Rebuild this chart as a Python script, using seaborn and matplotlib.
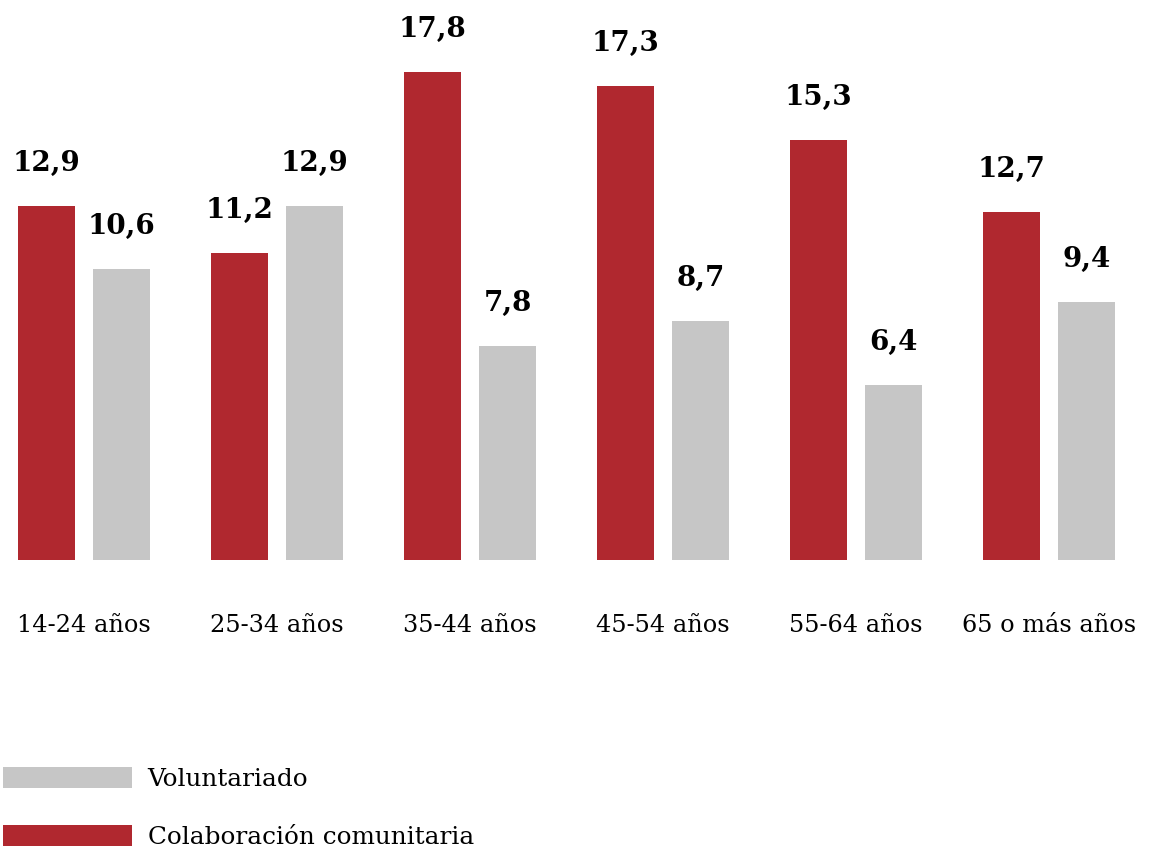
import matplotlib
matplotlib.use("Agg")
import matplotlib.pyplot as plt
import seaborn as sns
import pandas as pd
from matplotlib.patches import Patch

categories = ["14-24 años", "25-34 años", "35-44 años", "45-54 años", "55-64 años", "65 o más años"]
colaboracion = [12.9, 11.2, 17.8, 17.3, 15.3, 12.7]
voluntariado = [10.6, 12.9, 7.8, 8.7, 6.4, 9.4]
series_names = ["Colaboración comunitaria", "Voluntariado"]
colors = {"Colaboración comunitaria": "#B0282F", "Voluntariado": "#C6C6C6"}

df = pd.DataFrame({
    "cat": categories * 2,
    "serie": [series_names[0]] * len(categories) + [series_names[1]] * len(categories),
    "valor": colaboracion + voluntariado,
})

sns.set_style("white")
plt.rcParams["font.family"] = ["DejaVu Serif"]
plt.rcParams["text.color"] = "black"
plt.rcParams["xtick.color"] = "black"

fig = plt.figure(figsize=(11.5, 8.47), dpi=100)
ax = fig.add_axes([0, 287 / 847, 1, 560 / 847])

sns.barplot(data=df, x="cat", y="valor", hue="serie", hue_order=series_names,
            order=categories, palette=colors, width=150 / 193, gap=0.24,
            saturation=1, legend=False, linewidth=0, ax=ax)

ax.set_xlim(-84 / 193, (1150 - 84) / 193)
ax.set_ylim(0, 560 / 27.42)
for s in ax.spines.values():
    s.set_visible(False)
ax.set_yticks([])
ax.set_xlabel("")
ax.set_ylabel("")
ax.tick_params(axis="x", length=0, pad=39, labelsize=17.3, labelcolor="black")

for cont in ax.containers:
    for bar in cont:
        h = bar.get_height()
        ax.annotate(f"{h:.1f}".replace(".", ","),
                    (bar.get_x() + bar.get_width() / 2, h),
                    xytext=(0, 35), textcoords="offset pixels",
                    ha="center", va="baseline", fontsize=20, fontweight="bold",
                    color="black")

handles = [Patch(color=colors["Voluntariado"], linewidth=0),
           Patch(color=colors["Colaboración comunitaria"], linewidth=0)]
fig.legend(handles, ["Voluntariado", "Colaboración comunitaria"],
           loc="lower left", bbox_to_anchor=(3 / 1150, -2 / 847), frameon=False,
           fontsize=17.8, handlelength=5.2, handleheight=0.9, handletextpad=0.65,
           labelspacing=1.39, borderpad=0, borderaxespad=0, labelcolor="black")

fig.savefig("out.png", dpi=100)
